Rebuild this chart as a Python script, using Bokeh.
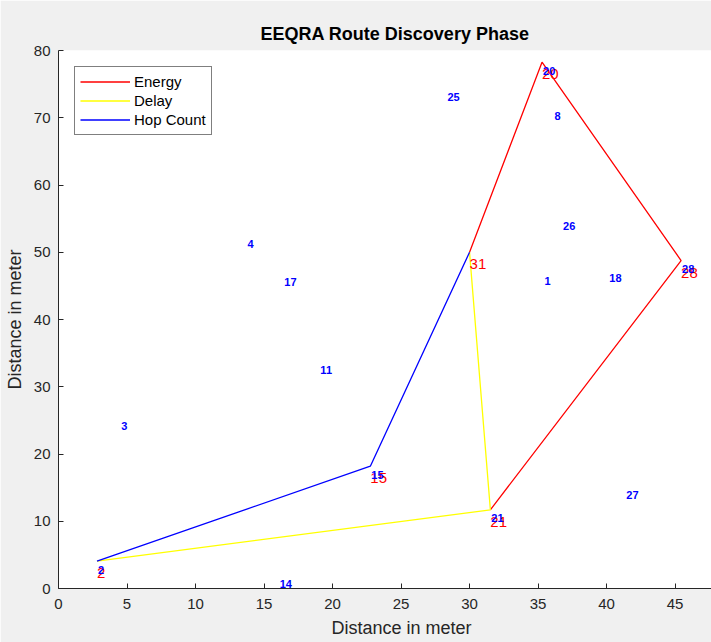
from bokeh.plotting import figure
from bokeh.models import ColumnDataSource, Range1d, Legend, LegendItem, Title, FixedTicker
from bokeh.embed import file_html
from bokeh.resources import INLINE
from bokeh.core.properties import value

# ---- data ----
node_ids = [1, 2, 3, 4, 8, 11, 14, 15, 17, 18, 20, 21, 25, 26, 27, 28, 31]
node_x = [35.39, 2.81, 4.51, 13.73, 36.12, 19.04, 16.07, 22.76, 16.41, 40.13, 35.29, 31.52, 28.31, 36.75, 41.37, 45.44, 30.00]
node_y = [47.06, 4.06, 25.50, 52.42, 71.45, 33.78, 1.96, 18.19, 46.81, 47.40, 78.26, 11.70, 74.42, 55.24, 15.24, 48.77, 50.00]
sink_id = 31

energy_route = [21, 28, 20, 31]
delay_route = [2, 21, 31]
hop_route = [2, 15, 31]
route_nodes = [2, 15, 21, 31, 20, 28]

x_ticks = [0, 5, 10, 15, 20, 25, 30, 35, 40, 45]
y_ticks = [0, 10, 20, 30, 40, 50, 60, 70, 80]

title_text = "EEQRA Route Discovery Phase"
x_label = "Distance in meter"
y_label = "Distance in meter"

pos = {n: (x, y) for n, x, y in zip(node_ids, node_x, node_y)}

def route_xy(route):
    return [pos[n][0] for n in route], [pos[n][1] for n in route]

FONT = "Liberation Sans"
AX = "#262626"

p = figure(width=711, height=642, output_backend="svg", toolbar_location=None,
           x_range=Range1d(0, 47.66), y_range=Range1d(0, 80),
           min_border_left=58, min_border_right=0, min_border_top=50, min_border_bottom=54,
           background_fill_color="white", border_fill_color="#f0f0f0")
p.outline_line_color = None
p.xgrid.visible = False
p.ygrid.visible = False

# title (centred on the full, uncropped axes)
p.title.text = title_text
p.title.text_font = FONT
p.title.text_font_size = "18px"
p.title.text_font_style = "bold"
p.title.text_color = "black"
p.title.align = "left"
p.title.offset = 202
p.title.standoff = 13

for ax in (p.xaxis[0], p.yaxis[0]):
    ax.axis_line_color = AX
    ax.major_tick_line_color = AX
    ax.minor_tick_line_color = None
    ax.major_tick_in = 5
    ax.major_tick_out = 0
    ax.major_label_text_font = FONT
    ax.major_label_text_font_size = "15px"
    ax.major_label_text_color = AX
p.xaxis[0].ticker = FixedTicker(ticks=x_ticks)
p.yaxis[0].ticker = FixedTicker(ticks=y_ticks)
p.xaxis[0].major_label_standoff = 10
p.yaxis[0].major_label_standoff = 8
p.yaxis[0].axis_label = y_label
p.yaxis[0].axis_label_text_font = FONT
p.yaxis[0].axis_label_text_font_size = "18px"
p.yaxis[0].axis_label_text_font_style = "normal"
p.yaxis[0].axis_label_text_color = AX
p.yaxis[0].axis_label_standoff = 6

p.add_layout(Title(text=x_label, text_font=FONT, text_font_size="18px",
                   text_font_style="normal", text_color=AX, align="left",
                   offset=273, standoff=8), "below")

# routes
ex, ey = route_xy(energy_route)
dx, dy = route_xy(delay_route)
hx, hy = route_xy(hop_route)
r_e = p.line(ex, ey, line_color="#ff0000", line_width=1.3)
r_d = p.line(dx, dy, line_color="#ffff00", line_width=1.3)
r_h = p.line(hx, hy, line_color="#0000ff", line_width=1.3)

# red labels for route nodes
red_src = ColumnDataSource(dict(x=[pos[n][0] for n in route_nodes],
                                y=[pos[n][1] for n in route_nodes],
                                t=[str(n) for n in route_nodes]))
p.text(x="x", y="y", text="t", source=red_src, x_offset=0, y_offset=12,
       text_font=value(FONT), text_font_size="15px", text_color="#ff0000",
       text_align="left", text_baseline="middle")

# blue labels for all sensor nodes
blue = [n for n in node_ids if n != sink_id]
blue_src = ColumnDataSource(dict(x=[pos[n][0] for n in blue],
                                 y=[pos[n][1] for n in blue],
                                 t=[str(n) for n in blue]))
p.text(x="x", y="y", text="t", source=blue_src, x_offset=1, y_offset=8.5,
       text_font=value(FONT), text_font_size="11px", text_font_style="bold",
       text_color="#0000ff", text_align="left", text_baseline="middle")

legend = Legend(items=[LegendItem(label="Energy", renderers=[r_e]),
                       LegendItem(label="Delay", renderers=[r_d]),
                       LegendItem(label="Hop Count", renderers=[r_h])],
                location="top_left", margin=16, padding=5, spacing=0,
                label_height=19, glyph_height=19, glyph_width=50, label_standoff=4,
                label_text_font=FONT, label_text_font_size="15px", label_text_color="black",
                border_line_color="black", border_line_width=1,
                background_fill_color="white", background_fill_alpha=1)
p.add_layout(legend)

open("out.html", "w").write(file_html(p, INLINE))
